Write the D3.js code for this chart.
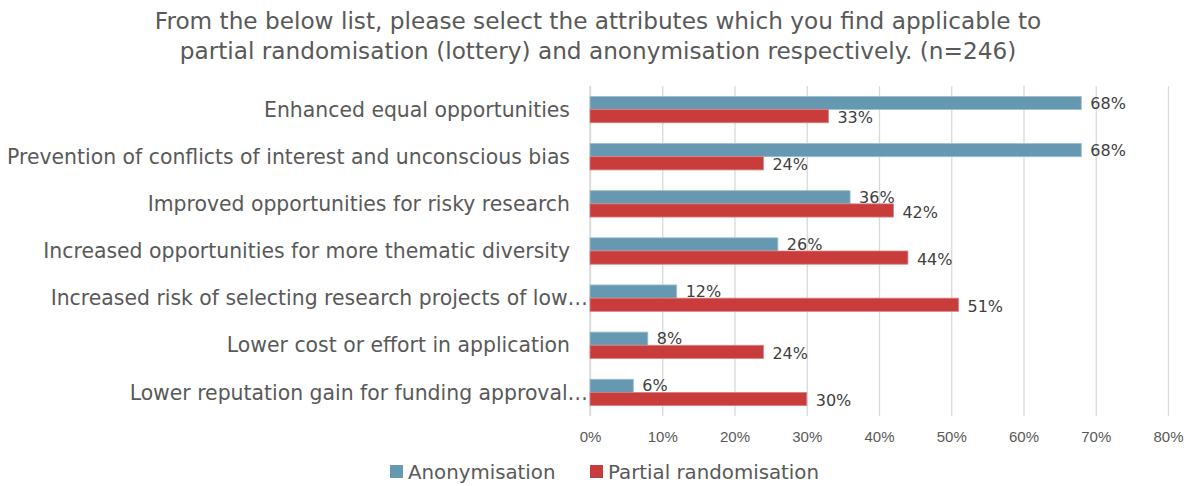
<!DOCTYPE html>
<html>
<head>
<meta charset="utf-8">
<script src="https://cdn.jsdelivr.net/npm/d3@7"></script>
<style>
  html, body { margin: 0; padding: 0; background: #ffffff; }
  svg { display: block; font-family: "DejaVu Sans", sans-serif; }
</style>
</head>
<body>
<svg id="chart" width="1197" height="486"></svg>
<script>
// Survey attributes (n=246)
const categories = [
  "Enhanced equal opportunities",
  "Prevention of conflicts of interest and unconscious bias",
  "Improved opportunities for risky research",
  "Increased opportunities for more thematic diversity",
  "Increased risk of selecting research projects of low…",
  "Lower cost or effort in application",
  "Lower reputation gain for funding approval…"
];
const anonymisation = [68, 68, 36, 26, 12, 8, 6];
const partialRandomisation = [33, 24, 42, 44, 51, 24, 30];
const seriesNames = ["Anonymisation", "Partial randomisation"];
const xTicks = [0, 10, 20, 30, 40, 50, 60, 70, 80];
const titleLines = [
  "From the below list, please select the attributes which you find applicable to",
  "partial randomisation (lottery) and anonymisation respectively. (n=246)"
];

const colors = ["#6699b1", "#c83c3c"];
const textColor = "#595959";

const svg = d3.select("#chart");
const margin = { left: 590, right: 29, top: 86, bottom: 70 };
const W = 1197, H = 486;

const x = d3.scaleLinear().domain([0, 80]).range([margin.left, W - margin.right]);
const y = d3.scaleBand().domain(categories).range([margin.top, H - margin.bottom]).paddingInner(0.44).paddingOuter(0.22);
const inner = d3.scaleBand().domain(seriesNames).range([0, y.bandwidth()]);

// Title
svg.append("g").selectAll("text").data(titleLines).join("text")
  .attr("x", 598).attr("y", (d, i) => 29 + i * 29.5)
  .attr("text-anchor", "middle")
  .attr("fill", textColor)
  .style("font-size", "23.2px")
  .text(d => d);

// Gridlines + x axis labels
const xAxis = d3.axisBottom(x).tickValues(xTicks).tickFormat(d => d + "%").tickSize(-(H - margin.bottom - margin.top)).tickPadding(15);
const gx = svg.append("g").attr("transform", `translate(0,${H - margin.bottom})`).call(xAxis);
gx.select(".domain").remove();
gx.selectAll(".tick line").attr("stroke", "#d9d9d9").attr("stroke-width", 1.3);
gx.selectAll(".tick text").attr("fill", textColor).style("font-size", "15px");

// Vertical category axis line
svg.append("line")
  .attr("x1", x(0)).attr("x2", x(0))
  .attr("y1", margin.top).attr("y2", H - margin.bottom)
  .attr("stroke", "#d9d9d9").attr("stroke-width", 1.3);

// Category labels
svg.append("g").selectAll("text").data(categories).join("text")
  .attr("x", d => d.endsWith("…") ? x(0) - 2 : x(0) - 20)
  .attr("y", d => y(d) + y.bandwidth() / 2)
  .attr("dy", "0.35em")
  .attr("text-anchor", "end")
  .attr("fill", textColor)
  .style("font-size", "20.4px")
  .text(d => d);

// Bars
const rows = categories.map((c, i) => ({ cat: c, vals: [anonymisation[i], partialRandomisation[i]] }));
const groups = svg.append("g").selectAll("g").data(rows).join("g")
  .attr("transform", d => `translate(0,${y(d.cat)})`);

groups.selectAll("rect").data(d => d.vals.map((v, j) => ({ v, s: seriesNames[j], j }))).join("rect")
  .attr("x", x(0))
  .attr("y", d => inner(d.s))
  .attr("width", d => x(d.v) - x(0))
  .attr("height", inner.bandwidth())
  .attr("fill", d => colors[d.j])
  .attr("stroke", d => d.j === 0 ? "#9fc0cf" : "#d98080")
  .attr("stroke-width", 0.8);

// Value labels
groups.selectAll("text").data(d => d.vals.map((v, j) => ({ v, s: seriesNames[j], j }))).join("text")
  .attr("x", d => x(d.v) + 9)
  .attr("y", d => inner(d.s) + inner.bandwidth() / 2 + (d.j === 1 ? 1.5 : 0))
  .attr("dy", "0.35em")
  .attr("fill", "#404040")
  .style("font-size", "16px")
  .text(d => d.v + "%");

// Legend
const legendX = [390, 590];
const legend = svg.append("g").selectAll("g").data(seriesNames).join("g")
  .attr("transform", (d, i) => `translate(${legendX[i]},465)`);
legend.append("rect").attr("width", 13).attr("height", 13).attr("fill", (d, i) => colors[i]);
legend.append("text").attr("x", 18).attr("y", 14)
  .attr("fill", textColor).style("font-size", "19.8px").text(d => d);
</script>
</body>
</html>
